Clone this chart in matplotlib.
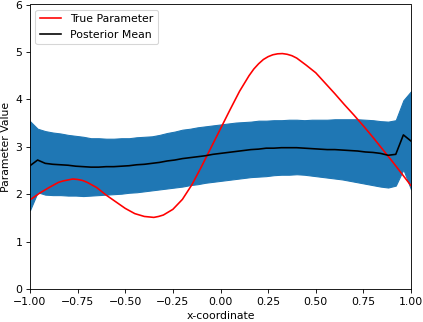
import numpy as np
import matplotlib
matplotlib.use("Agg")
import matplotlib.pyplot as plt

# true parameter curve (finer near the bends)
x_true = [-1.00, -0.95, -0.90, -0.85, -0.825, -0.80, -0.775, -0.75, -0.725, -0.70,
          -0.65, -0.60, -0.55, -0.50, -0.45, -0.40, -0.375, -0.35, -0.325, -0.30,
          -0.25, -0.20, -0.15, -0.10, -0.05, 0.00, 0.05, 0.10, 0.15, 0.175,
          0.20, 0.225, 0.25, 0.275, 0.30, 0.325, 0.35, 0.375, 0.40, 0.45,
          0.50, 0.55, 0.60, 0.65, 0.70, 0.75, 0.80, 0.85, 0.90, 0.95, 1.00]
true_param = [1.88, 2.02, 2.14, 2.25, 2.28, 2.30, 2.32, 2.31, 2.29, 2.25,
              2.14, 1.98, 1.84, 1.70, 1.59, 1.53, 1.52, 1.51, 1.53, 1.56,
              1.68, 1.89, 2.20, 2.58, 2.98, 3.38, 3.78, 4.17, 4.50, 4.64,
              4.75, 4.84, 4.90, 4.94, 4.96, 4.965, 4.95, 4.92, 4.87, 4.72,
              4.56, 4.34, 4.12, 3.89, 3.67, 3.44, 3.20, 2.95, 2.70, 2.44, 2.18]

# posterior grid (step 0.04)
x_post = [-1.00, -0.96, -0.92, -0.88, -0.84, -0.80, -0.76, -0.72, -0.68, -0.64,
          -0.60, -0.56, -0.52, -0.48, -0.44, -0.40, -0.36, -0.32, -0.28, -0.24,
          -0.20, -0.16, -0.12, -0.08, -0.04, 0.00, 0.04, 0.08, 0.12, 0.16,
          0.20, 0.24, 0.28, 0.32, 0.36, 0.40, 0.44, 0.48, 0.52, 0.56,
          0.60, 0.64, 0.68, 0.72, 0.76, 0.80, 0.84, 0.88, 0.92, 0.96, 1.00]
post_mean = [2.60, 2.72, 2.65, 2.63, 2.62, 2.61, 2.59, 2.58, 2.57, 2.57,
             2.58, 2.58, 2.59, 2.60, 2.62, 2.63, 2.65, 2.67, 2.70, 2.72,
             2.75, 2.77, 2.79, 2.81, 2.84, 2.86, 2.88, 2.90, 2.92, 2.94,
             2.95, 2.97, 2.97, 2.98, 2.98, 2.98, 2.97, 2.96, 2.95, 2.94,
             2.94, 2.93, 2.92, 2.91, 2.89, 2.88, 2.86, 2.82, 2.84, 3.25, 3.12]
post_upper = [3.54, 3.38, 3.33, 3.30, 3.28, 3.25, 3.23, 3.21, 3.18, 3.18,
              3.17, 3.17, 3.18, 3.18, 3.20, 3.21, 3.22, 3.25, 3.29, 3.32,
              3.36, 3.38, 3.41, 3.43, 3.45, 3.47, 3.49, 3.51, 3.52, 3.53,
              3.55, 3.55, 3.56, 3.56, 3.57, 3.57, 3.56, 3.57, 3.57, 3.57,
              3.58, 3.58, 3.58, 3.58, 3.57, 3.56, 3.54, 3.53, 3.56, 3.98, 4.17]
post_lower = [1.66, 2.04, 1.99, 1.98, 1.98, 1.97, 1.97, 1.96, 1.97, 1.98,
              1.99, 2.00, 2.01, 2.03, 2.04, 2.06, 2.08, 2.10, 2.12, 2.14,
              2.16, 2.19, 2.21, 2.24, 2.26, 2.28, 2.30, 2.32, 2.34, 2.36,
              2.37, 2.38, 2.40, 2.41, 2.41, 2.42, 2.41, 2.39, 2.37, 2.35,
              2.33, 2.31, 2.28, 2.25, 2.22, 2.19, 2.16, 2.14, 2.18, 2.52, 2.10]

DPI = 78
fig = plt.figure(figsize=(423 / DPI, 322 / DPI), dpi=DPI)
ax = fig.add_axes([30 / 423, 33 / 322, 381 / 423, 284.5 / 322])

ax.fill_between(x_post, post_lower, post_upper, color="C0")
ax.plot(x_true, true_param, color="red", label="True Parameter")
ax.plot(x_post, post_mean, color="black", label="Posterior Mean")

ax.set_xlim(-1, 1)
ax.set_ylim(0, 6)
ax.set_xlabel("x-coordinate")
ax.set_ylabel("Parameter Value")
ax.legend(loc="upper left")

fig.savefig("out.png", dpi=DPI)
